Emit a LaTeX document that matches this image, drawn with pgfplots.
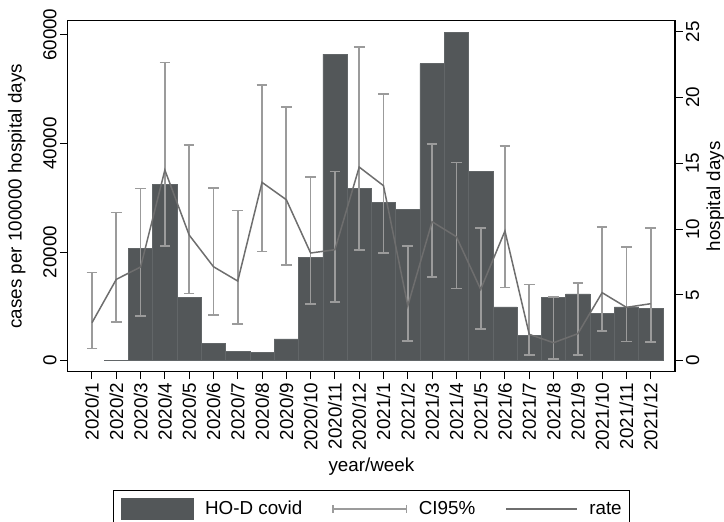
\documentclass[border=0pt]{standalone}
\usepackage{pgfplots}
\pgfplotsset{compat=1.18}
\usepackage{pgfplotstable}
\usepackage{fontspec}
\setmainfont{Liberation Sans}
\definecolor{barcol}{RGB}{83,87,89}
\definecolor{baredge}{RGB}{98,102,104}
\definecolor{cigray}{RGB}{155,155,155}
\definecolor{linegray}{RGB}{110,110,110}
\newcommand{\chartfont}{\fontsize{18.8bp}{22bp}\selectfont}

\pgfplotstableread{
x rate lo hi
0 6990 2270 16260
1 14970 7180 27300
2 17240 8280 31720
3 35090 21170 54900
4 23130 12390 39750
5 17300 8400 31840
6 14660 6750 27670
7 32820 20120 50680
8 29630 17550 46750
9 19820 10490 33870
10 20430 10800 34850
11 35640 20370 57790
12 32210 19880 49080
13 10120 3620 21100
14 25580 15460 39940
15 22820 13310 36500
16 13130 5890 24360
17 23870 13500 39510
18 4850 1100 14050
19 3310 370 11780
20 4970 1100 14290
21 12520 5460 24600
22 9820 3560 20920
23 10490 3440 24480
}\ratedata

\pgfplotstableread{
x days
1 0
2 8.54
3 13.40
4 4.79
5 1.34
6 0.71
7 0.66
8 1.65
9 7.88
10 23.30
11 13.12
12 12.01
13 11.52
14 22.57
15 24.97
16 14.41
17 4.10
18 1.95
19 4.79
20 5.07
21 3.62
22 4.10
23 4.00
}\bardata

\begin{document}
\begin{tikzpicture}
\path[use as bounding box] (-67.7bp,-150.3bp) rectangle (656.3bp,371.7bp);
\pgfplotsset{
  common/.style={
    scale only axis, width=607.3bp, height=351bp,
    xmin=-1, xmax=24,
    tick align=outside, major tick length=7.5bp,
    tick style={black, line width=1bp},
    ticklabel style={font=\chartfont},
    label style={font=\chartfont},
    /pgf/number format/assume math mode=true,
    /pgf/number format/1000 sep={},
    scaled y ticks=false,
    axis line style={black, line width=1.1bp},
  }
}
\begin{axis}[common,
  ymin=-0.836, ymax=25.84,
  axis x line=none, axis y line*=right,
  ytick={0,5,10,15,20,25},
  yticklabel style={rotate=90, anchor=north},
  ylabel={hospital days},
  ylabel style={at={(axis description cs:1.0741,0.5)}, anchor=base},
]
\addplot[ybar, bar width=1, fill=barcol, draw=baredge, line width=0.5bp] table[x=x,y=days]{\bardata};
\end{axis}
\begin{axis}[common,
  ymin=-2025, ymax=62580,
  ytick={0,20000,40000,60000}, ytick pos=left, xtick pos=bottom,
  xtick={0,...,23},
  xticklabels={2020/1,2020/2,2020/3,2020/4,2020/5,2020/6,2020/7,2020/8,2020/9,2020/10,2020/11,2020/12,2021/1,2021/2,2021/3,2021/4,2021/5,2021/6,2021/7,2021/8,2021/9,2021/10,2021/11,2021/12},
  xticklabel style={rotate=90, anchor=east},
  yticklabel style={rotate=90, anchor=south},
  xlabel={year/week},
  xlabel style={at={(axis description cs:0.5,-0.2849)}, anchor=base},
  ylabel={cases per 100000 hospital days},
  ylabel style={at={(axis description cs:-0.0758,0.5)}, anchor=base},
  legend columns=3,
  legend style={at={(axis description cs:0.5,-0.3382)}, anchor=north,
    draw=black, line width=1bp, font=\chartfont,
    inner xsep=8bp, inner ysep=7.3bp, nodes={inner sep=0pt},
    /tikz/every odd column/.append style={column sep=11.5bp},
    /tikz/every even column/.append style={column sep=30bp}},
  every error bar/.append style={line width=1.7bp, draw=cigray},
]
\addlegendimage{legend image code/.code={\fill[barcol] (0bp,-10.15bp) rectangle (71.6bp,10.15bp);}}
\addlegendentry{HO-D covid}
\addlegendimage{legend image code/.code={\draw[cigray, line width=1.6bp] (0bp,0bp) -- (73.5bp,0bp) (0bp,-4bp) -- (0bp,4bp) (73.5bp,-4bp) -- (73.5bp,4bp);}}
\addlegendentry{CI95\%}
\addlegendimage{legend image code/.code={\draw[linegray, line width=1.5bp] (0bp,0bp) -- (71bp,0bp);}}
\addlegendentry{rate}
\addplot[forget plot, cigray, draw opacity=0, mark=none, line width=1.7bp,
  error bars/.cd, y dir=both, y explicit,
  error bar style={draw=cigray, draw opacity=1, line width=1.7bp},
  error mark options={rotate=90, mark size=5.3bp, line width=1.7bp, draw=cigray, draw opacity=1}]
  table[x=x, y=rate, y error plus expr=\thisrow{hi}-\thisrow{rate}, y error minus expr=\thisrow{rate}-\thisrow{lo}]{\ratedata};
\addplot[forget plot, linegray, line width=1.5bp, mark=none] table[x=x, y=rate]{\ratedata};
\end{axis}
\end{tikzpicture}
\end{document}
